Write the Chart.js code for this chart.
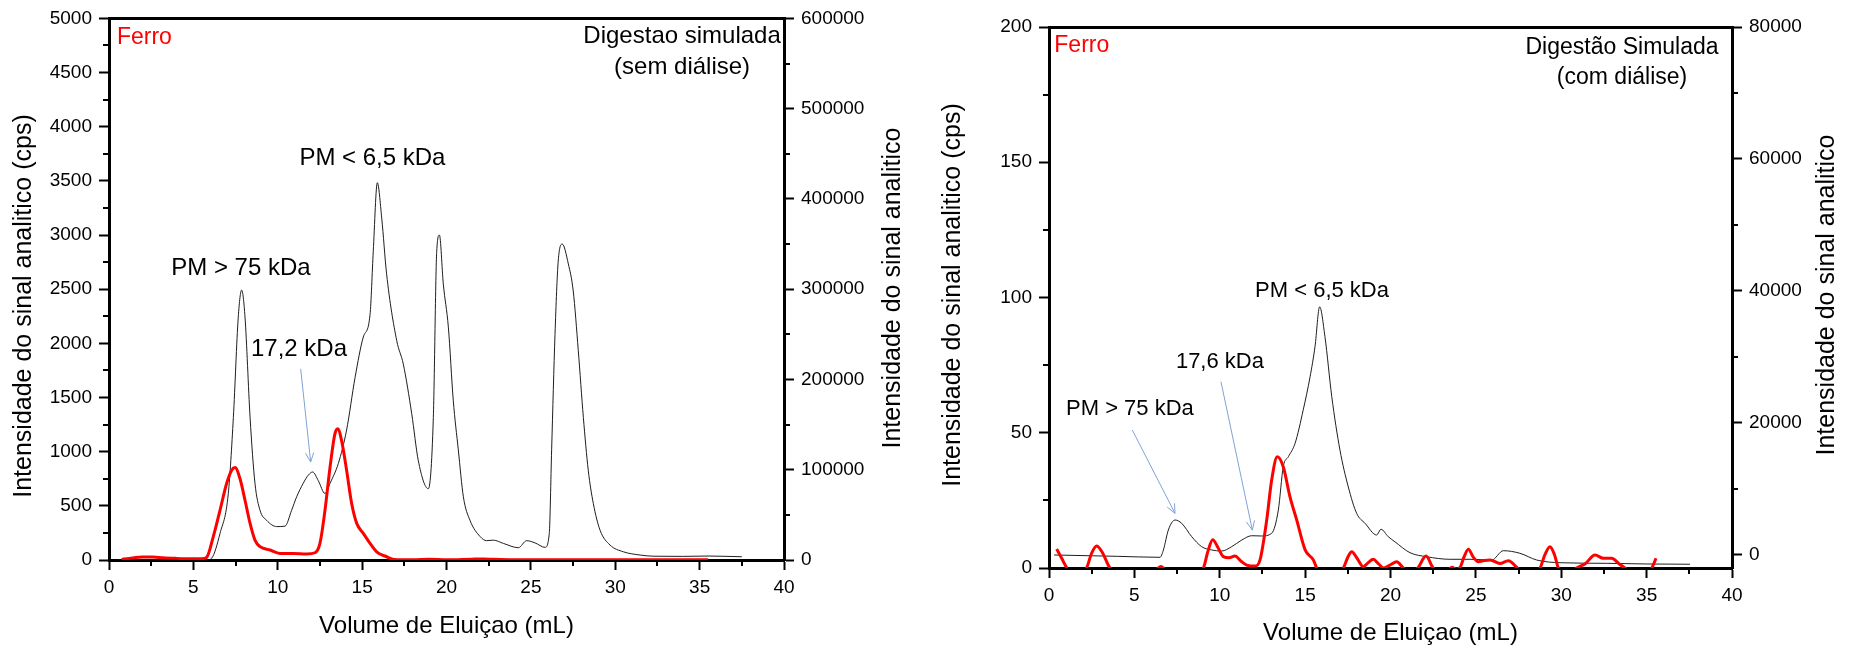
<!DOCTYPE html>
<html lang="pt">
<head>
<meta charset="utf-8">
<title>Ferro - Digestão simulada</title>
<script src="https://cdn.jsdelivr.net/npm/chart.js@4.4.1/dist/chart.umd.min.js"></script>
<style>
  html, body { margin: 0; padding: 0; background: #fff; }
  #wrap { position: relative; width: 1854px; height: 649px; }
  #wrap canvas { position: absolute; top: 0; }
</style>
</head>
<body>
<div id="wrap">
  <canvas id="semDialise" width="927" height="649" style="left:0"></canvas>
  <canvas id="comDialise" width="927" height="649" style="left:927px"></canvas>
</div>
<script>
/**
 */

// Painel 1: sem diálise - Ferro (cps, eixo esquerdo)
const semFerroX = [0.75, 1.2, 2.0, 2.6, 3.2, 4.0, 5.0, 5.5, 5.79, 6.18,
    6.58, 6.97, 7.27, 7.47, 7.76, 8.06, 8.36, 8.65, 8.95, 9.54,
    10.13, 10.92, 11.71, 12.21, 12.50, 12.80, 13.10, 13.39, 13.55, 13.78,
    14.08, 14.38, 14.68, 15.07, 15.47, 15.86, 16.45, 16.9, 18, 19,
    20, 21.5, 22.2, 22.8, 24, 30, 35.5];
const semFerroY = [5, 15, 28, 28, 20, 15, 12, 12, 25, 215,
    460, 706, 829, 853, 752, 552, 338, 184, 123, 92,
    61, 61, 55, 67, 153, 460, 859, 1166, 1212, 1105,
    829, 522, 338, 246, 153, 76, 30, 5, 2, 8,
    2, 8, 10, 6, 2, 2, 2];

// Painel 1: sem diálise - sinal (eixo direito)
const semSinalX = [0.5, 3, 5.8, 6.08, 6.58, 7.07, 7.37, 7.66, 7.86, 8.06,
    8.36, 8.65, 8.95, 9.34, 9.94, 10.43, 10.82, 11.12, 11.51, 11.81,
    12.07, 12.40, 12.80, 13.10, 13.59, 14.08, 14.58, 15.07, 15.47, 15.66,
    15.90, 16.16, 16.45, 17.05, 17.44, 17.94, 18.33, 18.92, 19.22, 19.42,
    19.58, 19.81, 20.11, 20.40, 20.70, 21.0, 21.39, 21.99, 22.38, 22.77,
    23.37, 24.26, 24.75, 25.24, 25.84, 26.09, 26.23, 26.43, 26.62, 26.86,
    27.22, 27.51, 27.81, 28.11, 28.40, 28.70, 29.10, 29.69, 30.48, 31.47,
    32.3, 34, 35.5, 37.5];
const semSinalY = [0, 0, 0, 1900, 29500, 73700, 158000, 269000, 299000, 269000,
    158000, 85000, 55000, 44000, 37000, 37500, 55000, 70000, 85000, 94000,
    97500, 88000, 73700, 85000, 107000, 144000, 202000, 247000, 272000, 342000,
    418000, 379000, 317000, 243000, 217000, 162000, 110000, 79000, 158000, 342000,
    360000, 306000, 258000, 177000, 122000, 70000, 44000, 26000, 21400, 22000,
    18400, 13600, 21400, 19000, 14000, 29400, 122000, 250000, 331000, 350000,
    328000, 298000, 232000, 158000, 99500, 62600, 33000, 16600, 9100, 5500,
    4200, 4000, 4400, 3600];

// Painel 2: com diálise - Ferro (cps, eixo esquerdo)
const comFerroX = [0.45, 0.75, 1.05, 1.6, 2.2, 2.5, 2.79, 3.1, 3.57, 4.5,
    5.5, 6.3, 6.55, 6.8, 7.8, 9.04, 9.3, 9.59, 9.9, 10.21,
    10.55, 10.89, 11.25, 11.58, 12.06, 12.36, 12.75, 13.04, 13.37, 13.72,
    14.11, 14.51, 15.0, 15.48, 15.68, 16.5, 17.24, 17.5, 17.73, 18.05,
    18.41, 18.7, 18.99, 19.3, 19.6, 20.0, 20.36, 20.75, 21.2, 21.6,
    22.08, 22.5, 23.2, 23.6, 23.85, 24.1, 24.3, 24.56, 24.85, 25.14,
    25.5, 25.83, 26.41, 26.9, 27.43, 28.1, 28.76, 29.05, 29.34, 29.6,
    29.83, 30.4, 30.9, 31.39, 31.98, 32.46, 32.95, 33.4, 33.73, 34.5,
    35.3, 35.55];
const comFerroY = [7.0, 3.5, 0, -4, 0, 5.5, 8.1, 6, 0, -3,
    -3, -0.5, 0.6, -0.5, -4, 0, 6, 10.4, 7.5, 4.2,
    3.8, 4.4, 2.5, 1.1, 0.7, 3.0, 17.7, 32.5, 41.1, 37.4,
    26.4, 17.7, 6.7, 3.0, 0, -5, 0, 4, 6.0, 3.5,
    0.5, 2, 3.2, 1.5, 0, 1.2, 2.3, 0, -2, 0,
    4.4, 0, -2, 0.3, -0.5, 0.5, 4, 6.9, 4, 2.3,
    2.8, 3.0, 1.7, 2.7, 0, -4, 0, 5, 7.9, 5,
    0, -3, 0, 1.5, 4.8, 3.6, 3.6, 1.5, 0, -3,
    0, 3.6];

// Painel 2: com diálise - sinal (eixo direito)
const comSinalX = [0.3, 4.0, 6.5, 6.70, 6.99, 7.38, 7.77, 8.36, 8.94, 9.53,
    10.11, 10.70, 11.29, 11.87, 12.46, 13.04, 13.43, 13.72, 14.02, 14.41,
    14.89, 15.29, 15.58, 15.85, 16.16, 16.56, 17.04, 17.53, 18.02, 18.51,
    19.19, 19.44, 19.87, 20.26, 21.14, 22.12, 23.48, 24.66, 25.93, 26.61,
    27.58, 28.56, 29.93, 32.66, 35.0, 37.54];
const comSinalY = [0, -200, -350, 760, 3790, 5300, 4800, 2770, 1260, 760,
    600, 1260, 2270, 2920, 2880, 3290, 6800, 13400, 14900, 16900,
    22000, 27000, 31600, 37600, 33100, 24000, 15900, 10300, 6300, 4800,
    3030, 3900, 2770, 2000, 350, -260, -650, -650, -760, 650,
    260, -760, -1170, -1260, -1360, -1400];

const FONT = '"Liberation Sans", Arial, sans-serif';
const RED = '#ff0000';
const INK = '#1e1e1e';
const ARROW_BLUE = '#7fa3d6';
const MINOR_LEN = 6;

Chart.defaults.font.family = FONT;
Chart.defaults.color = '#000';

/**
 * Configuração de cada painel (eixos, textos, setas)
 */
const panels = {
    semDialise: {
        ferroX: semFerroX, ferroY: semFerroY,
        sinalX: semSinalX, sinalY: semSinalY,
        y: { min: 0, max: 5000, step: 500, minor: 250 },
        y1: { min: 0, max: 600000, step: 100000, minor: 50000 },
        box: { top: 17, left: 109, right: 143, bottom: 89 },
        xTitlePad: 8,
        yTitles: [
            { text: 'Intensidade do sinal analitico (cps)', x: 24, y: 306 },
            { text: 'Intensidade do sinal analitico', x: 893, y: 288 },
        ],
        labels: [
            { text: 'Ferro', x: 0.47, y: 4825, size: 23, color: RED, align: 'left' },
            { text: 'Digestao simulada', x: 33.96, y: 4834, size: 24 },
            { text: '(sem diálise)', x: 33.96, y: 4549, size: 24 },
            { text: 'PM < 6,5 kDa', x: 15.61, y: 3704, size: 24 },
            { text: 'PM > 75 kDa', x: 7.82, y: 2689, size: 24 },
            { text: '17,2 kDa', x: 11.26, y: 1946, size: 24 },
        ],
        arrows: [
            { from: [11.36, 1765], to: [11.95, 905] },
        ],
    },
    comDialise: {
        ferroX: comFerroX, ferroY: comFerroY,
        sinalX: comSinalX, sinalY: comSinalY,
        y: { min: 0, max: 200, step: 50, minor: 25 },
        y1: { min: -1970, max: 80000, step: 20000, minor: 10000 },
        box: { top: 27, left: 122, right: 122, bottom: 81 },
        xTitlePad: 1,
        yTitles: [
            { text: 'Intensidade do sinal analitico (cps)', x: 26, y: 295 },
            { text: 'Intensidade do sinal analitico', x: 900, y: 295 },
        ],
        labels: [
            { text: 'Ferro', x: 0.31, y: 193.1, size: 23, color: RED, align: 'left' },
            { text: 'Digestão Simulada', x: 33.56, y: 192.4, size: 23 },
            { text: '(com diálise)', x: 33.56, y: 181.3, size: 23 },
            { text: 'PM < 6,5 kDa', x: 15.99, y: 102.6, size: 22 },
            { text: '17,6 kDa', x: 10.01, y: 76.0, size: 22 },
            { text: 'PM > 75 kDa', x: 4.74, y: 58.7, size: 22 },
        ],
        arrows: [
            { from: [4.88, 51.0], to: [7.38, 20.2] },
            { from: [10.07, 68.9], to: [11.91, 14.0] },
        ],
    },
};

function toPoints(xs, ys) {
    return xs.map((x, i) => ({ x: x, y: ys[i] }));
}

/**
 * Overlay: traços menores, títulos verticais, anotações e setas
 */
function makeOverlay(p) {
    return {
        id: 'overlay',
        afterDraw(chart) {
            const { ctx, chartArea, scales } = chart;
            const sx = scales.x;
            const sy = scales.y;
            ctx.save();

            // traços menores dos eixos
            ctx.strokeStyle = '#000';
            ctx.lineWidth = 2;
            const minors = [['x', 2.5], ['y', p.y.minor], ['y1', p.y1.minor]];
            minors.forEach(([id, step]) => {
                const s = scales[id];
                const k0 = Math.ceil(s.min / step);
                const k1 = Math.floor(s.max / step);
                for (let k = k0; k <= k1; k++) {
                    if (k % 2 === 0) continue;
                    const pix = Math.round(s.getPixelForValue(k * step));
                    ctx.beginPath();
                    if (s.position === 'bottom') {
                        ctx.moveTo(pix, chartArea.bottom);
                        ctx.lineTo(pix, chartArea.bottom + MINOR_LEN);
                    } else if (s.position === 'left') {
                        ctx.moveTo(chartArea.left, pix);
                        ctx.lineTo(chartArea.left - MINOR_LEN, pix);
                    } else {
                        ctx.moveTo(chartArea.right, pix);
                        ctx.lineTo(chartArea.right + MINOR_LEN, pix);
                    }
                    ctx.stroke();
                }
            });

            // títulos verticais (ambos lidos de baixo para cima)
            ctx.fillStyle = '#000';
            ctx.font = '25px ' + FONT;
            ctx.textAlign = 'center';
            ctx.textBaseline = 'middle';
            p.yTitles.forEach(t => {
                ctx.save();
                ctx.translate(t.x, t.y);
                ctx.rotate(-Math.PI / 2);
                ctx.fillText(t.text, 0, 0);
                ctx.restore();
            });

            // anotações
            p.labels.forEach(l => {
                ctx.font = l.size + 'px ' + FONT;
                ctx.fillStyle = l.color || '#000';
                ctx.textAlign = l.align || 'center';
                ctx.fillText(l.text, sx.getPixelForValue(l.x), sy.getPixelForValue(l.y));
            });

            // setas
            ctx.strokeStyle = ARROW_BLUE;
            ctx.lineWidth = 1;
            p.arrows.forEach(a => {
                const x1 = sx.getPixelForValue(a.from[0]);
                const y1 = sy.getPixelForValue(a.from[1]);
                const x2 = sx.getPixelForValue(a.to[0]);
                const y2 = sy.getPixelForValue(a.to[1]);
                const ang = Math.atan2(y2 - y1, x2 - x1);
                ctx.beginPath();
                ctx.moveTo(x1, y1);
                ctx.lineTo(x2, y2);
                ctx.moveTo(x2 - 10 * Math.cos(ang - 0.42), y2 - 10 * Math.sin(ang - 0.42));
                ctx.lineTo(x2, y2);
                ctx.lineTo(x2 - 10 * Math.cos(ang + 0.42), y2 - 10 * Math.sin(ang + 0.42));
                ctx.stroke();
            });

            ctx.restore();
        },
    };
}

function tickStyle(step, padding) {
    return {
        stepSize: step,
        padding: padding,
        color: '#000',
        font: { size: 19 },
        autoSkip: false,
        maxRotation: 0,
        callback: v => String(v),
    };
}

// marcas principais a partir de zero, a cada passo
function stepTicks(scale, step) {
    const ticks = [];
    for (let v = 0; v <= scale.max + 1e-9; v += step) {
        ticks.push({ value: v });
    }
    scale.ticks = ticks;
}

const GRID = { display: true, drawOnChartArea: false, tickLength: 10, tickWidth: 2, tickColor: '#000' };
const BORDER = { display: true, color: '#000', width: 3 };

/**
 * Cria um painel
 */
function buildPanel(canvasId) {
    const p = panels[canvasId];
    const ctx = document.getElementById(canvasId).getContext('2d');

    return new Chart(ctx, {
        type: 'line',
        data: {
            datasets: [
                {
                    label: 'Ferro',
                    data: toPoints(p.ferroX, p.ferroY),
                    yAxisID: 'y',
                    borderColor: RED,
                    borderWidth: 3,
                    pointRadius: 0,
                    fill: false,
                    cubicInterpolationMode: 'monotone',
                },
                {
                    label: 'Sinal analitico',
                    data: toPoints(p.sinalX, p.sinalY),
                    yAxisID: 'y1',
                    borderColor: INK,
                    borderWidth: 1,
                    pointRadius: 0,
                    fill: false,
                    cubicInterpolationMode: 'monotone',
                },
            ],
        },
        options: {
            responsive: false,
            animation: false,
            devicePixelRatio: 1,
            layout: { padding: { top: p.box.top, left: 0, right: 0, bottom: 0 } },
            plugins: {
                legend: { display: false },
                tooltip: { enabled: false },
            },
            scales: {
                x: {
                    type: 'linear',
                    position: 'bottom',
                    min: 0,
                    max: 40,
                    z: 1,
                    ticks: tickStyle(5, 6),
                    grid: GRID,
                    border: BORDER,
                    title: {
                        display: true,
                        text: 'Volume de Eluiçao (mL)',
                        color: '#000',
                        font: { size: 24 },
                        padding: { top: 0, bottom: p.xTitlePad },
                    },
                    afterFit: s => { s.height = p.box.bottom; },
                },
                xTop: {
                    type: 'linear',
                    position: 'top',
                    min: 0,
                    max: 40,
                    grid: { display: false },
                    ticks: { display: false },
                    border: BORDER,
                    afterFit: s => { s.height = 0; },
                },
                y: {
                    type: 'linear',
                    position: 'left',
                    min: p.y.min,
                    max: p.y.max,
                    z: 1,
                    ticks: tickStyle(p.y.step, 7),
                    grid: GRID,
                    border: BORDER,
                    afterBuildTicks: s => stepTicks(s, p.y.step),
                    afterFit: s => { s.width = p.box.left; },
                },
                y1: {
                    type: 'linear',
                    position: 'right',
                    min: p.y1.min,
                    max: p.y1.max,
                    z: 1,
                    ticks: tickStyle(p.y1.step, 7),
                    grid: GRID,
                    border: BORDER,
                    afterBuildTicks: s => stepTicks(s, p.y1.step),
                    afterFit: s => { s.width = p.box.right; },
                },
            },
        },
        plugins: [makeOverlay(p)],
    });
}

buildPanel('semDialise');
buildPanel('comDialise');
</script>
</body>
</html>
